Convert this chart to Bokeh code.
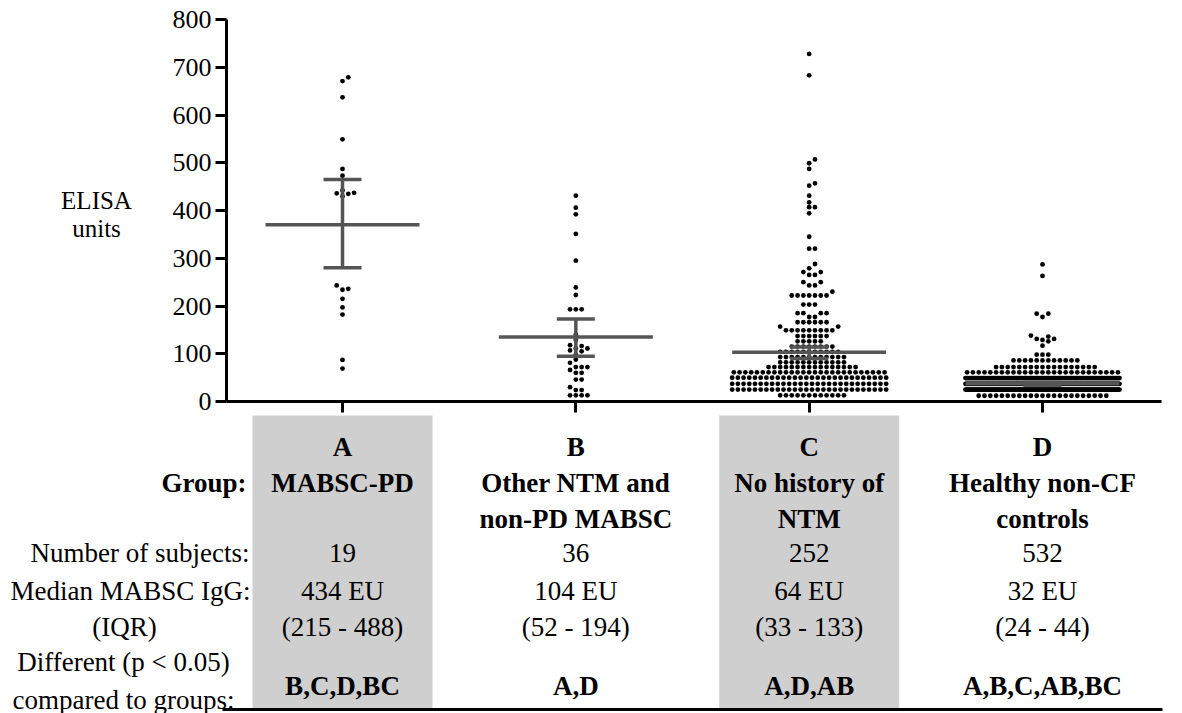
import numpy as np
from bokeh.plotting import figure
from bokeh.models import Range1d, FixedTicker
from bokeh.embed import file_html
from bokeh.resources import INLINE
from bokeh.core.properties import value

# ---------------- data ----------------
groups = ["A", "B", "C", "D"]
group_line1 = ["MABSC-PD", "Other NTM and", "No history of", "Healthy non-CF"]
group_line2 = ["", "non-PD MABSC", "NTM", "controls"]
n_subjects = ["19", "36", "252", "532"]
median_igg = ["434 EU", "104 EU", "64 EU", "32 EU"]
iqr_text = ["(215 - 488)", "(52 - 194)", "(33 - 133)", "(24 - 44)"]
different = ["B,C,D,BC", "A,D", "A,D,AB", "A,B,C,AB,BC"]
shaded_groups = ["A", "C"]

y_ticks = [0, 100, 200, 300, 400, 500, 600, 700, 800]

a_values = [679, 671, 637, 549, 487, 473, 442, 437, 436, 435, 430,
            243, 236, 234, 215, 197, 182, 87, 69]
b_values = [431, 406, 392, 351, 295, 239, 223, 193, 193, 193, 140, 129,
            118, 116, 111, 111, 107, 105, 98, 88, 81, 72, 72, 72, 66, 60,
            60, 46, 46, 30, 24, 24, 13, 13, 13, 13]
c_row_values = [728, 683, 507, 499, 487, 457, 452, 431, 417, 407, 394, 345,
                320, 288, 279, 271, 265, 250, 243, 230, 222, 203, 185, 177,
                166, 157, 149, 137, 126, 115, 104, 93, 82, 72, 61, 50, 37,
                25, 13]
c_row_counts = [1, 1, 1, 1, 1, 1, 1, 1, 1, 2, 1, 1,
                2, 1, 1, 2, 2, 2, 2, 1, 7, 3, 4, 2,
                6, 2, 9, 6, 5, 8, 11, 12, 12, 16, 27, 28, 28,
                28, 12]
d_row_values = [287, 263, 184, 177, 138, 136, 131, 129, 126, 117, 98, 86,
                72, 61, 49, 37, 25, 12]
d_row_counts = [1, 1, 2, 1, 1, 1, 2, 1, 1, 1, 3, 12,
                18, 27, 127, 170, 140, 23]

means = [370, 135, 103, 37]
err_low = [280, 95, 90, 34]
err_high = [465, 173, 114, 40]

# ---------------- geometry (page pixels) ----------------
W, H = 1182, 713
CAT1_PX = 342.0          # page x of group A
PX_CAT = 700.0 / 3.0     # px per group
ZERO_PX = 401.0          # page y of value 0
PX_Y = 382.0 / 800.0     # px per ELISA unit
FONT = "Liberation Serif"
TXT = "27px"

MEAN_HALF = 77 / PX_CAT
CAP_HALF = 19 / PX_CAT
BOX_HALF = 90 / PX_CAT


def x_of(page_x):
    return 1 + (page_x - CAT1_PX) / PX_CAT


def y_of(page_y):
    return (ZERO_PX - page_y) / PX_Y


def swarm(vals, max_half=77.0, step=5.8, dmin=4.6):
    vals = sorted(vals)
    uniq, cnts = np.unique(vals, return_counts=True)
    placed = []
    xs, ys = [], []
    for v, n in zip(uniq, cnts):
        ypx = v * PX_Y
        if (n - 1) * step > 2 * max_half:
            sp = 2 * max_half / (n - 1)
            for i in range(n):
                xs.append(-max_half + i * sp)
                ys.append(float(v))
            continue
        for _ in range(n):
            k = 0
            found = None
            while found is None:
                cands = [0.0] if k == 0 else [k * step, -k * step]
                for c in cands:
                    if all((c - px) ** 2 + (ypx - py) ** 2 >= dmin ** 2 for px, py in placed):
                        found = c
                        break
                k += 1
            placed.append((found, ypx))
            xs.append(found)
            ys.append(float(v))
    return xs, ys


all_groups = [a_values, b_values,
              list(np.repeat(c_row_values, c_row_counts)),
              list(np.repeat(d_row_values, d_row_counts))]
px_all, py_all = [], []
for gi, vals in enumerate(all_groups):
    xo, yv = swarm(vals)
    px_all += [gi + 1 + o / PX_CAT for o in xo]
    py_all += yv

# ---------------- figure ----------------
p = figure(width=W, height=H, x_range=Range1d(x_of(0), x_of(W)),
           y_range=Range1d(y_of(H), y_of(0)),
           output_backend="svg", toolbar_location=None, min_border=0)
p.xgrid.visible = False
p.ygrid.visible = False
p.outline_line_color = None

ya = p.yaxis[0]
ya.fixed_location = x_of(226)
ya.bounds = (0, 800)
ya.ticker = FixedTicker(ticks=y_ticks)
ya.major_tick_out = 11
ya.major_tick_in = 0
ya.minor_tick_out = 0
ya.minor_tick_in = 0
ya.major_tick_line_width = 3
ya.axis_line_width = 3
ya.major_label_standoff = 4
ya.major_label_text_font = FONT
ya.major_label_text_font_size = "26px"
ya.major_label_text_color = "black"

xa = p.xaxis[0]
xa.fixed_location = 0
xa.bounds = (x_of(226), x_of(1161))
xa.ticker = FixedTicker(ticks=[1, 2, 3, 4])
xa.major_label_overrides = {1: "", 2: "", 3: "", 4: ""}
xa.major_label_text_font = FONT
xa.major_label_text_font_size = "1px"
xa.major_label_standoff = 0
xa.major_tick_out = 11
xa.major_tick_in = 0
xa.minor_tick_out = 0
xa.minor_tick_in = 0
xa.major_tick_line_width = 3
xa.axis_line_width = 3

gx = [i + 1 for i in range(len(groups))]

# shaded table columns and bottom rule
sx = [groups.index(g) + 1 for g in shaded_groups]
p.quad(left=[x - BOX_HALF for x in sx], right=[x + BOX_HALF for x in sx],
       top=[y_of(415)] * len(sx), bottom=[y_of(709)] * len(sx),
       fill_color="#cfcfcf", line_color=None)
p.segment(x0=[x_of(222)], x1=[x_of(1162)], y0=[y_of(709)], y1=[y_of(709)],
          line_color="black", line_width=3)

# dots
p.scatter(x=px_all, y=py_all, size=4.8, fill_color="black", line_color=None)

# mean and error bars
line_col = "#555555"
p.segment(x0=[x - MEAN_HALF for x in gx], x1=[x + MEAN_HALF for x in gx], y0=means, y1=means,
          line_color=line_col, line_width=3.5)
p.segment(x0=gx, x1=gx, y0=err_low, y1=err_high, line_color=line_col, line_width=3.5)
p.segment(x0=[x - CAP_HALF for x in gx], x1=[x + CAP_HALF for x in gx], y0=err_low, y1=err_low,
          line_color=line_col, line_width=3.5)
p.segment(x0=[x - CAP_HALF for x in gx], x1=[x + CAP_HALF for x in gx], y0=err_high, y1=err_high,
          line_color=line_col, line_width=3.5)


def put(texts, xs, page_y, align="center", bold=False, size=TXT):
    p.text(x=xs, y=[y_of(page_y)] * len(texts), text=texts, text_font=value(FONT),
           text_font_size=size, text_align=align, text_baseline="alphabetic",
           text_font_style="bold" if bold else "normal", text_color="black")


# y axis title
put(["ELISA"], [x_of(96)], 200, size="25px")
put(["units"], [x_of(96)], 228, size="25px")

# table columns
put(groups, gx, 446, bold=True)
put(group_line1, gx, 482, bold=True)
put(group_line2, gx, 518, bold=True)
put(n_subjects, gx, 552)
put(median_igg, gx, 590)
put(iqr_text, gx, 626)
put(different, gx, 685, bold=True)

# table row labels
put(["Group:"], [x_of(246)], 482, align="right", bold=True)
put(["Number of subjects:"], [x_of(249)], 552, align="right")
put(["Median MABSC IgG:"], [x_of(250)], 590, align="right")
put(["(IQR)"], [x_of(124)], 626)
put(["Different (p < 0.05)"], [x_of(123)], 661)
put(["compared to groups:"], [x_of(123)], 699)

open("out.html", "w").write(file_html(p, INLINE))
